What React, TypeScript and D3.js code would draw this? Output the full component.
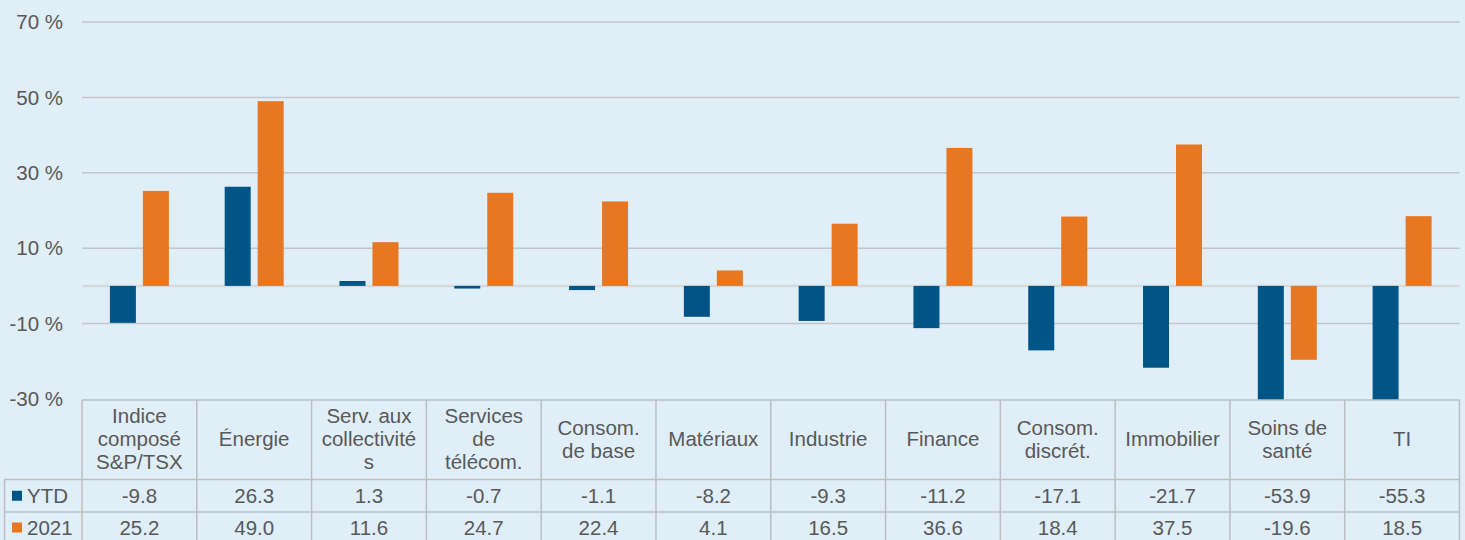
import React from 'react';
import * as d3 from 'd3';

// data
const categories = [
  'Indice\ncomposé\nS&P/TSX',
  'Énergie',
  'Serv. aux\ncollectivité\ns',
  'Services\nde\ntélécom.',
  'Consom.\nde base',
  'Matériaux',
  'Industrie',
  'Finance',
  'Consom.\ndiscrét.',
  'Immobilier',
  'Soins de\nsanté',
  'TI',
];
const seriesNames = ['YTD', '2021'];
const ytd = [-9.8, 26.3, 1.3, -0.7, -1.1, -8.2, -9.3, -11.2, -17.1, -21.7, -53.9, -55.3];
const y2021 = [25.2, 49.0, 11.6, 24.7, 22.4, 4.1, 16.5, 36.6, 18.4, 37.5, -19.6, 18.5];
const yTicks = [-30, -10, 10, 30, 50, 70];

const colors: Record<string, string> = { YTD: '#005587', '2021': '#e87722' };
const textColor = '#595959';
const font = '"Liberation Sans", Arial, sans-serif';
const fs = 20.5;

const W = 1465, H = 540;
const left = 82, right = 1459.5;
const yTop = 22, yBottom = 399;
const rowTop1 = 479.5, rowTop2 = 512, rowBottom = 545;
const tableLeft = 4.5;

export default function App() {
  const x = d3.scaleBand<number>().domain(d3.range(categories.length)).range([left, right]).padding(0);
  const y = d3.scaleLinear().domain([-30, 70]).range([yBottom, yTop]);
  const inner = d3.scaleBand<string>().domain(seriesNames).range([0, 59]).paddingInner(0.212);
  const groupOffset = (x.bandwidth() - 59) / 2;
  const values: Record<string, number[]> = { YTD: ytd, '2021': y2021 };
  const fmt = d3.formatLocale({ decimal: '.', thousands: ',', grouping: [3], currency: ['', ''], minus: '-' }).format('.1f');

  return (
    <div style={{ position: 'absolute', left: 0, top: 0 }}>
      <svg width={W} height={H} style={{ display: 'block', fontFamily: font }}>
        <defs>
          <clipPath id="plot">
            <rect x={left} y={yTop - 5} width={right - left} height={yBottom - yTop + 6} />
          </clipPath>
        </defs>
        <rect width={W} height={H} fill="#e0eef8" />

        {/* gridlines + tick labels */}
        {yTicks.map(t => (
          <g key={t}>
            {t !== -30 && (
              <line x1={left} x2={right} y1={y(t)} y2={y(t)} stroke="#c3c6c9" strokeWidth={1.5} />
            )}
            <text x={63} y={y(t)} dy="0.35em" textAnchor="end" fontSize={fs} fill={textColor}>
              {t} %
            </text>
          </g>
        ))}
        <line x1={left} x2={right} y1={y(0)} y2={y(0)} stroke="#d6dadd" strokeWidth={2.5} />

        {/* bars */}
        <g clipPath="url(#plot)">
          {seriesNames.map(s =>
            values[s].map((v, i) => {
              const x0 = (x(i) as number) + groupOffset + (inner(s) as number);
              const y0 = y(Math.max(0, v));
              const y1 = y(Math.min(0, v));
              return (
                <rect key={s + i} x={x0} y={y0} width={inner.bandwidth()} height={Math.max(1.5, y1 - y0)} fill={colors[s]} />
              );
            })
          )}
        </g>

        {/* data table */}
        <g stroke="#bcbfc2" strokeWidth={1.5}>
          <line x1={left} x2={right} y1={yBottom + 1} y2={yBottom + 1} />
          <line x1={tableLeft} x2={right} y1={rowTop1} y2={rowTop1} />
          <line x1={tableLeft} x2={right} y1={rowTop2} y2={rowTop2} />
          <line x1={tableLeft} x2={tableLeft} y1={rowTop1} y2={rowBottom} />
          {d3.range(categories.length + 1).map(i => {
            const xx = i < categories.length ? (x(i) as number) : right;
            return <line key={i} x1={xx} x2={xx} y1={yBottom + 1} y2={rowBottom} />;
          })}
        </g>

        {categories.map((c, i) => {
          const lines = c.split('\n');
          const cx = (x(i) as number) + x.bandwidth() / 2;
          const cy = (yBottom + rowTop1) / 2;
          const lh = 23;
          return (
            <text key={c} x={cx} textAnchor="middle" fontSize={fs} fill={textColor}>
              {lines.map((l, k) => (
                <tspan key={k} x={cx} y={cy + (k - (lines.length - 1) / 2) * lh} dy="0.35em">
                  {l}
                </tspan>
              ))}
            </text>
          );
        })}

        {seriesNames.map((s, r) => {
          const cy = r === 0 ? (rowTop1 + rowTop2) / 2 : (rowTop2 + 544) / 2 - 0.5;
          return (
            <g key={s}>
              <rect x={12} y={cy - 5} width={10} height={10} fill={colors[s]} />
              <text x={27} y={cy} dy="0.35em" fontSize={fs} fill={textColor}>{s}</text>
              {values[s].map((v, i) => (
                <text key={i} x={(x(i) as number) + x.bandwidth() / 2} y={cy} dy="0.35em" textAnchor="middle" fontSize={fs} fill={textColor}>
                  {fmt(v)}
                </text>
              ))}
            </g>
          );
        })}
      </svg>
    </div>
  );
}
